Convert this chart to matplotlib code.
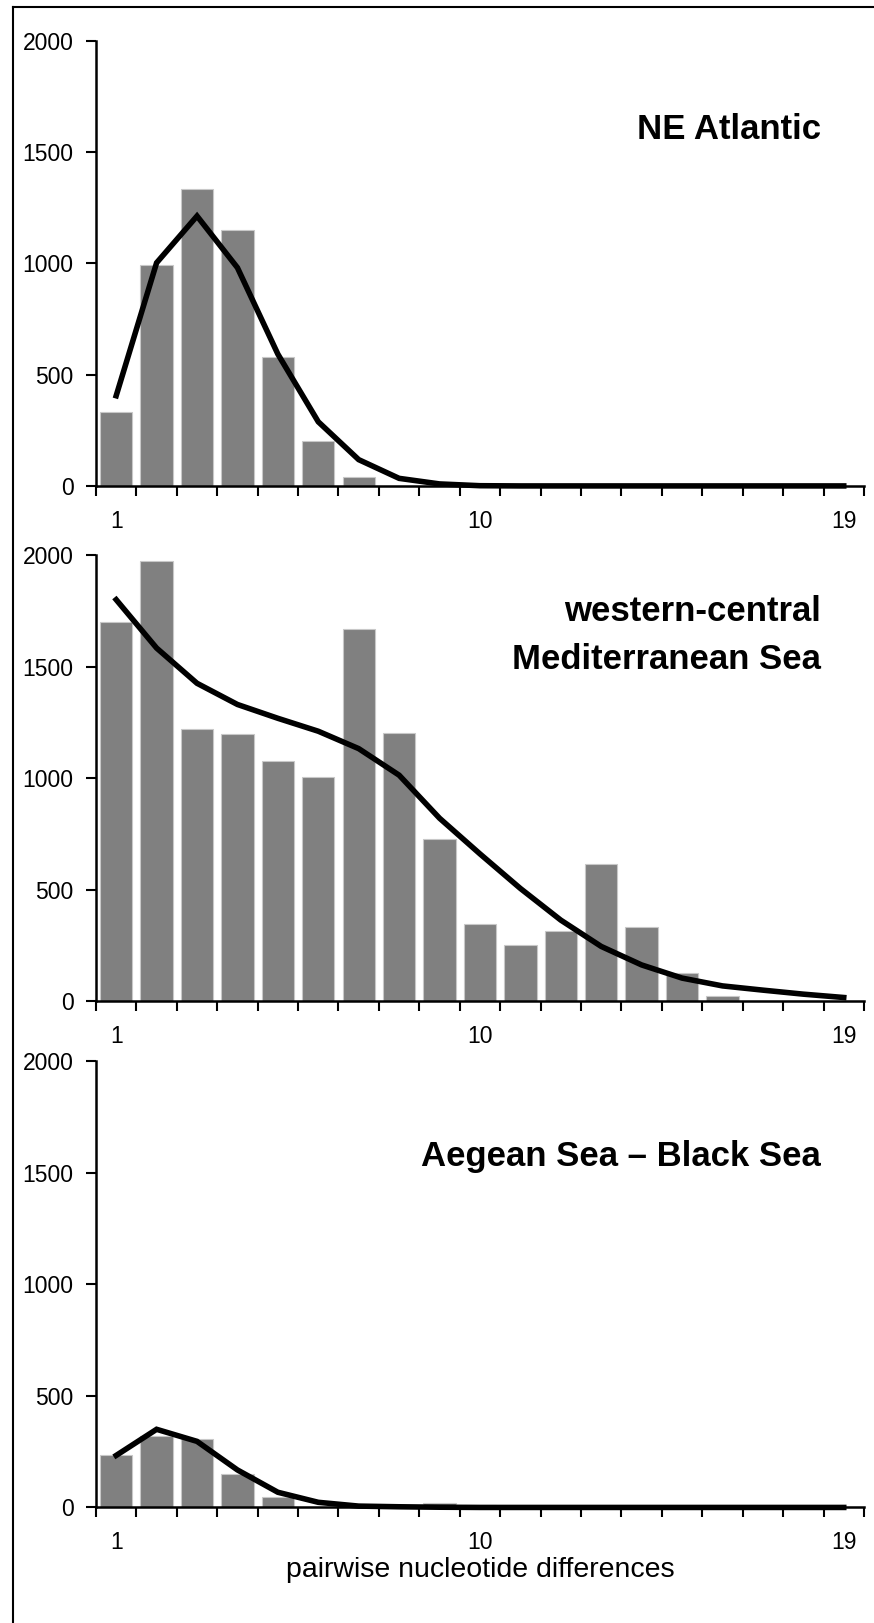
import matplotlib
matplotlib.use("Agg")
import matplotlib.pyplot as plt
from matplotlib import font_manager
from matplotlib.lines import Line2D

# pairwise differences (categories on the x axis)
diffs = [1, 2, 3, 4, 5, 6, 7, 8, 9, 10, 11, 12, 13, 14, 15, 16, 17, 18, 19]

# observed (bars) and expected (line) counts per region
ne_obs = [330, 992, 1333, 1149, 580, 204, 38, 0, 0, 0, 0, 0, 0, 0, 0, 0, 0, 0, 0]
ne_exp = [405, 1002, 1212, 980, 592, 288, 118, 34, 9, 1, 0, 0, 0, 0, 0, 0, 0, 0, 0]
med_obs = [1702, 1972, 1220, 1196, 1078, 1005, 1670, 1202, 728, 345,
           252, 312, 615, 331, 127, 22, 0, 0, 0]
med_exp = [1800, 1583, 1425, 1330, 1268, 1210, 1132, 1013, 820, 660,
           505, 363, 245, 162, 103, 68, 49, 31, 16]
aeg_obs = [236, 320, 308, 150, 47, 4, 4, 3, 18, 12, 0, 0, 0, 0, 0, 0, 0, 0, 0]
aeg_exp = [233, 350, 296, 168, 68, 23, 6, 3, 1, 0, 0, 0, 0, 0, 0, 0, 0, 0, 0]

titles = ["NE Atlantic", "western-central\nMediterranean Sea", "Aegean Sea \u2013 Black Sea"]
yticks = [0, 500, 1000, 1500, 2000]
xlabels = ["1", "10", "19"]
xlabel = "pairwise nucleotide differences"

names = {f.name for f in font_manager.fontManager.ttflist}
if "Liberation Sans Narrow" in names:
    fam = ["Liberation Sans Narrow", "DejaVu Sans"]
    tick_fs, title_fs, lab_fs = 18, 29, 24
else:
    fam = ["Liberation Sans", "DejaVu Sans"]
    tick_fs, title_fs, lab_fs = 16.5, 25, 20.5
plt.rcParams["font.family"] = fam

fig = plt.figure(figsize=(8.74, 16.23), dpi=100)

# axes boxes in figure fraction: left, bottom, width, height
boxes = [(0.1098, 0.7006, 0.8787, 0.2744),
         (0.1098, 0.3832, 0.8787, 0.2748),
         (0.1098, 0.0712, 0.8787, 0.2751)]
title_y = [0.779, 0.744, 0.765]
panels = [(ne_obs, ne_exp), (med_obs, med_exp), (aeg_obs, aeg_exp)]

for i, (obs, exp) in enumerate(panels):
    ax = fig.add_axes(boxes[i])
    ax.bar(diffs, obs, width=0.8, color="#808080", edgecolor="#c8c8c8", linewidth=0.8, zorder=2)
    ax.plot(diffs, exp, color="black", linewidth=4, solid_joinstyle="miter", zorder=3, clip_on=False)
    ax.set_xlim(0.5, 19.5)
    ax.set_ylim(0, 2000)
    for s in ["top", "right"]:
        ax.spines[s].set_visible(False)
    for s in ["left", "bottom"]:
        ax.spines[s].set_linewidth(1.8)
        ax.spines[s].set_zorder(4)
    ax.set_yticks(yticks)
    ax.set_yticklabels([str(v) for v in yticks])
    ax.tick_params(axis="y", direction="out", length=7, width=1.5, pad=9, labelsize=tick_fs)
    ax.set_xticks([1, 10, 19])
    ax.set_xticklabels(xlabels)
    ax.set_xticks([d - 0.5 for d in diffs] + [19.5], minor=True)
    ax.tick_params(axis="x", which="major", length=0, pad=17, labelsize=tick_fs)
    ax.tick_params(axis="x", which="minor", direction="out", length=7, width=1.5)
    ax.text(0.944, title_y[i], titles[i], transform=ax.transAxes, ha="right", va="baseline",
            fontsize=title_fs, fontweight="bold", linespacing=1.6)
    if i == 2:
        ax.set_xlabel(xlabel, fontsize=lab_fs, labelpad=2)

# frame around the figure (only left and top edges are visible)
fig.add_artist(Line2D([12.5 / 874, 12.5 / 874], [0, 1 - 6.5 / 1623], transform=fig.transFigure,
                      color="black", linewidth=1.5))
fig.add_artist(Line2D([12.5 / 874, 1], [1 - 6.5 / 1623, 1 - 6.5 / 1623], transform=fig.transFigure,
                      color="black", linewidth=1.5))

fig.savefig("out.png", dpi=100)
